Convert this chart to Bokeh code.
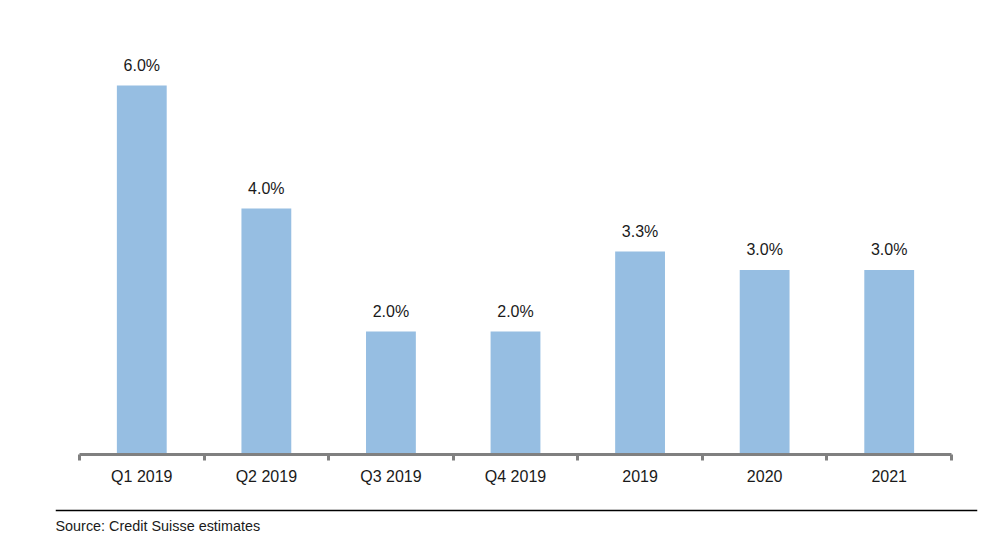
from bokeh.plotting import figure
from bokeh.models import ColumnDataSource, LabelSet, Label, Span, FixedTicker, Range1d
from bokeh.layouts import column
from bokeh.core.properties import value
from bokeh.embed import file_html
from bokeh.resources import INLINE

categories = ["Q1 2019", "Q2 2019", "Q3 2019", "Q4 2019", "2019", "2020", "2021"]
values = [6.0, 4.0, 2.0, 2.0, 3.3, 3.0, 3.0]
value_labels = ["6.0%", "4.0%", "2.0%", "2.0%", "3.3%", "3.0%", "3.0%"]
source_note = "Source: Credit Suisse estimates"

xpos = [i + 0.5 for i in range(len(categories))]
src = ColumnDataSource(dict(x=xpos, top=values, lab=value_labels, cat=categories))

FONT = "Liberation Sans"
W = 978

p = figure(width=W, height=495, output_backend="svg", toolbar_location=None,
           x_range=Range1d(0, len(categories)), y_range=Range1d(0, 7.09),
           min_border_left=79, min_border_right=27, min_border_top=18, min_border_bottom=41)
p.outline_line_color = None
p.xgrid.visible = False
p.ygrid.visible = False
p.yaxis.visible = False

p.vbar(x="x", top="top", bottom=0, width=0.4, source=src, fill_color="#96BEE2", line_color=None)

p.add_layout(LabelSet(x="x", y="top", text="lab", source=src, y_offset=15,
                      text_align="center", text_baseline="alphabetic",
                      text_font=value(FONT), text_font_size="16px", text_color="#1a1a1a"))

ax = p.xaxis[0]
ax.ticker = FixedTicker(ticks=xpos, minor_ticks=list(range(len(categories) + 1)))
ax.major_label_overrides = {x: c for x, c in zip(xpos, categories)}
ax.axis_line_color = "#808080"
ax.axis_line_width = 3
ax.major_tick_line_color = None
ax.major_tick_out = 0
ax.major_tick_in = 0
ax.minor_tick_line_color = "#808080"
ax.minor_tick_line_width = 3
ax.minor_tick_out = 6
ax.minor_tick_in = 0
ax.major_label_standoff = 7
ax.major_label_text_font = FONT
ax.major_label_text_font_size = "16px"
ax.major_label_text_color = "#1a1a1a"

# footer with separator line and source note
f = figure(width=W, height=38, output_backend="svg", toolbar_location=None,
           x_range=Range1d(0, 1), y_range=Range1d(0, 38),
           min_border_left=55, min_border_right=1, min_border_top=0, min_border_bottom=0)
f.frame_align = False
f.outline_line_color = None
f.xaxis.visible = False
f.yaxis.visible = False
f.xgrid.visible = False
f.ygrid.visible = False
f.add_layout(Span(location=23, dimension="width", line_color="black", line_width=1.5))
f.add_layout(Label(x=0, y=8, text=source_note, text_font=FONT, text_font_size="14.4px",
                   text_color="#1a1a1a", text_baseline="middle", text_align="left"))

layout = column(p, f, spacing=0)
open("out.html", "w").write(file_html(layout, INLINE))
